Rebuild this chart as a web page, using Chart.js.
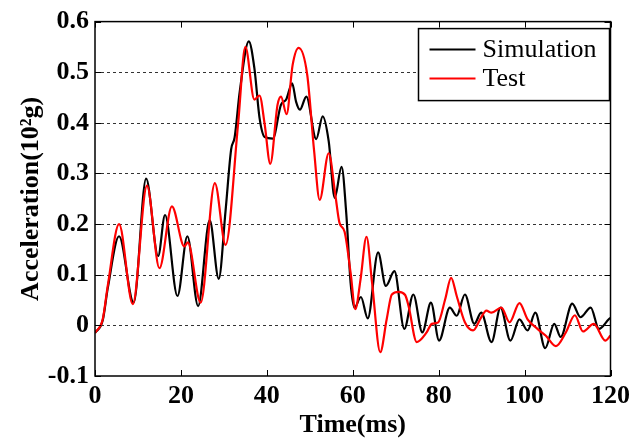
<!DOCTYPE html>
<html lang="en">
<head>
  <meta charset="UTF-8">
  <title>Acceleration vs Time</title>
  <style>
    body {
      margin: 0;
      background-color: #fff;
    }
    #wrap {
      width: 635px;
      height: 442px;
    }
  </style>
</head>
<body>
  <div id="wrap"><canvas id="chart" width="635" height="442"></canvas></div>

  <script src="https://cdn.jsdelivr.net/npm/chart.js"></script>
  <script>
    // values (time in ms, acceleration in 10^2 g)
    const simTime = [0, 1.8, 3.0, 5.6, 9.0, 11.9, 14.7, 16.3, 19.2, 21.5, 24.0, 26.7, 28.8, 30.4, 31.7, 32.5, 33.7, 35.8, 37.1, 38.3, 39.5, 41.4, 43.3, 44.5, 45.9, 46.8, 47.7, 49.2, 51.5, 53.0, 54.4, 55.8, 57.4, 58.5, 59.5, 60.4, 61.9, 63.5, 65.9, 67.7, 69.7, 72.0, 74.1, 76.2, 78.2, 80.1, 82.6, 84.2, 86.1, 88.3, 89.9, 92.3, 94.4, 96.7, 98.8, 100.7, 102.5, 104.8, 106.9, 108.4, 111.1, 113.0, 115.4, 117.3, 119.6, 120];
    const simAccel = [-0.015, 0.01, 0.075, 0.176, 0.045, 0.29, 0.137, 0.218, 0.058, 0.176, 0.038, 0.208, 0.092, 0.227, 0.348, 0.371, 0.462, 0.561, 0.508, 0.41, 0.372, 0.369, 0.436, 0.446, 0.478, 0.442, 0.426, 0.452, 0.368, 0.413, 0.364, 0.252, 0.313, 0.22, 0.084, 0.035, 0.056, 0.014, 0.144, 0.078, 0.107, -0.007, 0.061, -0.014, 0.045, -0.03, 0.035, 0.019, 0.061, 0.003, 0.025, -0.033, 0.035, -0.03, 0.012, -0.01, 0.025, -0.045, 0.003, -0.023, 0.043, 0.016, 0.035, -0.007, 0.012, 0.015];

    const testTime = [0, 1.8, 3.0, 5.6, 8.8, 12.1, 15.0, 17.9, 20.8, 21.6, 24.6, 27.9, 30.4, 33.3, 35.0, 37.1, 38.3, 39.5, 40.8, 42.5, 43.3, 44.6, 46.0, 47.4, 49.4, 51.0, 52.3, 54.4, 56.0, 56.9, 58.1, 59.5, 60.6, 61.8, 63.2, 64.5, 66.4, 67.9, 69.1, 70.7, 72.2, 73.0, 74.9, 77.2, 78.4, 79.9, 81.5, 82.9, 84.2, 86.1, 88.0, 89.9, 91.1, 92.3, 94.6, 96.5, 98.8, 100.7, 103.0, 104.9, 107.3, 109.6, 111.7, 113.6, 116.1, 118.8, 120];
    const testAccel = [-0.015, 0.012, 0.08, 0.2, 0.042, 0.276, 0.113, 0.235, 0.156, 0.164, 0.045, 0.281, 0.159, 0.397, 0.55, 0.446, 0.454, 0.397, 0.319, 0.436, 0.452, 0.417, 0.514, 0.548, 0.495, 0.345, 0.248, 0.34, 0.254, 0.203, 0.185, 0.104, 0.032, 0.09, 0.175, 0.084, -0.053, 0.012, 0.061, 0.066, 0.06, 0.038, -0.033, -0.014, 0.003, 0.006, 0.051, 0.094, 0.058, 0.006, -0.01, 0.016, 0.029, 0.025, 0.035, 0.006, 0.044, 0.012, -0.007, -0.02, -0.041, -0.014, 0.02, -0.012, 0.003, -0.03, -0.02];

    const xTicks = [0, 20, 40, 60, 80, 100, 120];
    const yTicks = [-0.1, 0, 0.1, 0.2, 0.3, 0.4, 0.5, 0.6];

    const toPoints = (xs, ys) => xs.map((x, i) => ({ x: x, y: ys[i] }));

    const serif = "'Liberation Serif', 'Times New Roman', serif";

    // frame, inward ticks, dotted grid and boxed legend like the original figure
    const framePlugin = {
      id: 'frame',
      beforeDatasetsDraw(chart) {
        const { ctx, chartArea: a, scales } = chart;
        ctx.save();
        ctx.strokeStyle = '#333';
        ctx.lineWidth = 1;
        ctx.setLineDash([3, 3]);
        yTicks.forEach(v => {
          if (v <= -0.1 || v >= 0.6) return;
          const py = Math.round(scales.y.getPixelForValue(v)) + 0.5;
          ctx.beginPath();
          ctx.moveTo(a.left, py);
          ctx.lineTo(a.right, py);
          ctx.stroke();
        });
        ctx.restore();
      },
      afterDatasetsDraw(chart) {
        const { ctx, chartArea: a, scales } = chart;
        ctx.save();
        ctx.strokeStyle = '#000';
        ctx.lineWidth = 1.5;
        ctx.setLineDash([]);
        ctx.strokeRect(a.left, a.top, a.right - a.left, a.bottom - a.top);

        const len = 6;
        ctx.lineWidth = 1;
        xTicks.forEach(v => {
          const px = Math.round(scales.x.getPixelForValue(v)) + 0.5;
          ctx.beginPath();
          ctx.moveTo(px, a.bottom);
          ctx.lineTo(px, a.bottom - len);
          ctx.moveTo(px, a.top);
          ctx.lineTo(px, a.top + len);
          ctx.stroke();
        });
        yTicks.forEach(v => {
          const py = Math.round(scales.y.getPixelForValue(v)) + 0.5;
          ctx.beginPath();
          ctx.moveTo(a.left, py);
          ctx.lineTo(a.left + len, py);
          ctx.moveTo(a.right, py);
          ctx.lineTo(a.right - len, py);
          ctx.stroke();
        });

        // legend box
        const w = 191, h = 72;
        const bx = a.right - w - 1, by = a.top + 7;
        ctx.fillStyle = '#fff';
        ctx.fillRect(bx, by, w, h);
        ctx.lineWidth = 1.5;
        ctx.strokeRect(bx, by, w, h);
        ctx.font = '26px ' + serif;
        ctx.textBaseline = 'middle';
        const rows = [chart.data.datasets[0], chart.data.datasets[1]];
        rows.forEach((ds, i) => {
          const ly = by + 21 + i * 29;
          ctx.strokeStyle = ds.borderColor;
          ctx.lineWidth = 2;
          ctx.beginPath();
          ctx.moveTo(bx + 11, ly);
          ctx.lineTo(bx + 57, ly);
          ctx.stroke();
          ctx.fillStyle = '#000';
          ctx.fillText(ds.label, bx + 64, ly + 1);
        });
        ctx.restore();
      }
    };

    const ctx = document.getElementById('chart').getContext('2d');
    new Chart(ctx, {
      type: 'line',
      data: {
        datasets: [
          {
            label: 'Simulation',
            data: toPoints(simTime, simAccel),
            borderColor: '#000000',
            borderWidth: 2.2,
            pointRadius: 0,
            cubicInterpolationMode: 'monotone',
            order: 2
          },
          {
            label: 'Test',
            data: toPoints(testTime, testAccel),
            borderColor: '#ff0000',
            borderWidth: 2.2,
            pointRadius: 0,
            cubicInterpolationMode: 'monotone',
            order: 1
          }
        ]
      },
      options: {
        responsive: false,
        animation: false,
        layout: { padding: { top: 18, right: 22, left: 0, bottom: 0 } },
        plugins: {
          legend: { display: false },
          tooltip: { enabled: false }
        },
        scales: {
          x: {
            type: 'linear',
            min: 0,
            max: 120,
            afterBuildTicks: s => { s.ticks = xTicks.map(v => ({ value: v })); },
            afterFit: s => { s.height = 66; },
            grid: { display: false, drawTicks: false, tickLength: 0 },
            border: { display: false },
            ticks: {
              color: '#000',
              padding: 5,
              maxRotation: 0,
              font: { family: serif, size: 26, weight: 'bold' }
            },
            title: {
              display: true,
              text: 'Time(ms)',
              color: '#000',
              padding: { top: 0, bottom: 1 },
              font: { family: serif, size: 26, weight: 'bold' }
            }
          },
          y: {
            min: -0.1,
            max: 0.6,
            afterBuildTicks: s => { s.ticks = yTicks.map(v => ({ value: v })); },
            afterFit: s => { s.width = 95; },
            grid: { display: false, drawTicks: false, tickLength: 0 },
            border: { display: false },
            ticks: {
              color: '#000',
              padding: 6,
              callback: v => (Math.abs(v) < 1e-9 ? '0' : (Math.round(v * 10) / 10).toFixed(1)),
              font: { family: serif, size: 26, weight: 'bold' }
            },
            title: {
              display: true,
              text: 'Acceleration(10²g)',
              color: '#000',
              padding: { top: 16, bottom: 0 },
              font: { family: serif, size: 26, weight: 'bold' }
            }
          }
        }
      },
      plugins: [framePlugin]
    });
  </script>
</body>
</html>
